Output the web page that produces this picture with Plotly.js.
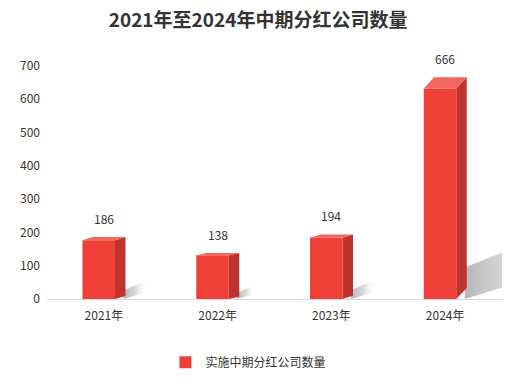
<!DOCTYPE html>
<html>
<head>
<meta charset="utf-8">
<script src="https://cdn.plot.ly/plotly-3.0.1.min.js"></script>
<style>html,body{margin:0;padding:0;background:#fff;}#chart{width:507px;height:380px;}</style>
</head>
<body>
<div id="chart"></div>
<script>
// ---- data ----
const years = ['2021年', '2022年', '2023年', '2024年'];
const counts = [186, 138, 194, 666];
const seriesName = '实施中期分红公司数量';
const chartTitle = '2021年至2024年中期分红公司数量';
const yTicks = [0, 100, 200, 300, 400, 500, 600, 700];

// ---- style / geometry (not data) ----
const FONT = '"Noto Sans CJK SC", "Microsoft YaHei", sans-serif';
const FRONT = '#EE4036', SIDE = '#C0322C', TOP = '#F2675F';
const xs = years.map((_, i) => i);
const frontL = -0.188, frontR = 0.098, depth = 0.092; // in category units
const depthRatio = 0.05;                                // vertical perspective share
const PXX = 1 / 113.75, PXY = 700 / 232.7;             // one pixel in axis units

const traces = [];
// soft floor shadows (behind the bars)
xs.forEach((c, i) => {
  const v = counts[i];
  const hPx = v * (1 - depthRatio) / PXY;
  const dx = 0.4 * hPx, t = 0.15 * hPx;
  const xa = c + frontR + depth - 2 * PXX;
  const px = [xa, xa, xa + dx * PXX, xa + dx * PXX, xa];
  const py = [0, t * PXY, (t + 0.4 * dx) * PXY, 0.3 * dx * PXY, 0];
  traces.push({
    type: 'scatter', mode: 'lines', fill: 'toself', showlegend: false, hoverinfo: 'skip',
    x: px, y: py,
    line: {width: 0, color: 'rgba(0,0,0,0)'},
    fillcolor: 'rgba(205,205,205,0.5)',
    fillgradient: {type: 'horizontal', start: xa, stop: xa + dx * PXX,
      colorscale: [[0, 'rgba(175,175,175,0.9)'], [0.5, 'rgba(200,200,200,0.7)'], [1, 'rgba(250,250,250,0)']]}
  });
});
// front faces
traces.push({
  type: 'bar', name: seriesName,
  x: xs.map(c => c + (frontL + frontR) / 2),
  y: counts.map(v => v * (1 - depthRatio)),
  width: frontR - frontL,
  marker: {color: FRONT, line: {width: 0}},
  text: counts.map(String), hoverinfo: 'text', textposition: 'none'
});
// side and top faces
xs.forEach((c, i) => {
  const v = counts[i];
  const fl = c + frontL, fr = c + frontR;
  const ft = v * (1 - depthRatio), bb = v * depthRatio;
  traces.push({
    type: 'scatter', mode: 'lines', fill: 'toself', showlegend: false, hoverinfo: 'skip',
    x: [fr, fr, fr + depth, fr + depth, fr], y: [0, ft, v, bb, 0],
    line: {width: 0, color: SIDE}, fillcolor: SIDE
  });
  traces.push({
    type: 'scatter', mode: 'lines', fill: 'toself', showlegend: false, hoverinfo: 'skip',
    x: [fl, fr, fr + depth, fl + depth, fl], y: [ft, ft, v, v, ft],
    line: {width: 0, color: TOP}, fillcolor: TOP
  });
});

const annotations = xs.map((c, i) => ({
  x: c, y: counts[i], xref: 'x', yref: 'y', text: String(counts[i]),
  showarrow: false, yanchor: 'bottom', yshift: 8,
  font: {family: FONT, size: 12, color: '#333'}
}));

const layout = {
  width: 507, height: 380,
  margin: {l: 47, r: 5, t: 66, b: 81, pad: 0},
  paper_bgcolor: '#fff', plot_bgcolor: '#fff',
  title: {text: chartTitle, x: 0.509, xanchor: 'center', xref: 'container',
    y: 0.947, yanchor: 'middle', yref: 'container',
    font: {family: FONT, size: 19, color: '#333', weight: 700}},
  xaxis: {range: [-0.5, 3.5], tickvals: xs, ticktext: years, showgrid: false, zeroline: false,
    showline: true, linecolor: '#d9d9d9', linewidth: 1, ticks: '', ticklabelstandoff: 6,
    tickfont: {family: FONT, size: 12, color: '#333'}, fixedrange: true},
  yaxis: {range: [0, 700], tickvals: yTicks, showgrid: false, zeroline: false, showline: false,
    ticks: '', ticklabelstandoff: 6, tickfont: {family: FONT, size: 12, color: '#333'}, fixedrange: true},
  showlegend: true,
  legend: {orientation: 'h', x: 0.49, xanchor: 'center', xref: 'container', y: 0.047, yanchor: 'middle', yref: 'container',
    font: {family: FONT, size: 12, color: '#333'}},
  annotations: annotations,
  hovermode: 'closest'
};

Plotly.newPlot('chart', traces, layout, {displayModeBar: false});
</script>
</body>
</html>
